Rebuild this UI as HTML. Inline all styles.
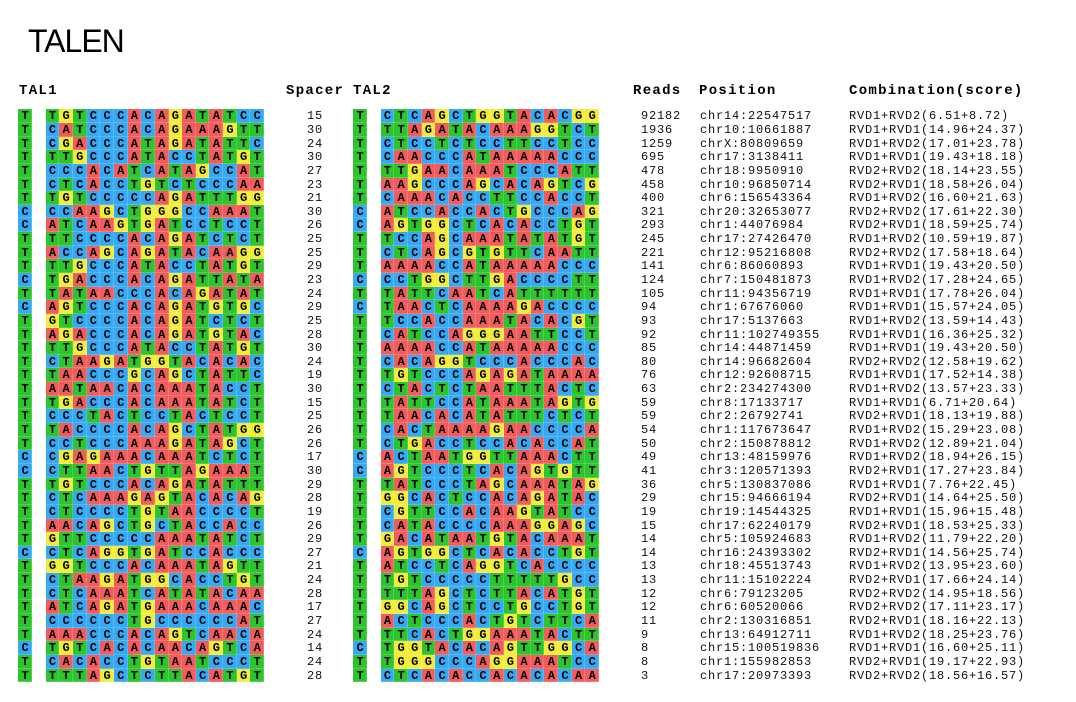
<!DOCTYPE html>
<html><head><meta charset="utf-8"><style>
html,body{margin:0;padding:0}
body{width:1076px;height:702px;background:#fff;position:relative;overflow:hidden;color:#000}
.t{position:absolute;left:28px;top:25px;font:32px/32px "Liberation Sans",Arial,sans-serif;letter-spacing:-1px;color:#000}
.h{position:absolute;top:83.8px;font:bold 14px/14px "Liberation Mono",monospace;letter-spacing:1.3px;color:#000}
#rows{position:absolute;top:109.3px;left:0;width:1076px}
.r{position:relative;height:13.65px}
.r p{position:absolute;top:0;margin:0;display:flex}
.r p.a{left:18.3px}
.r p.b{left:353.3px}
.r i{display:block;width:13.67px;height:13.65px;font:bold 12px/15.3px "Liberation Mono",monospace;text-align:center;color:#000}
.r i.T{background:#2dc52d}
.r i.A{background:#f25c5c}
.r i.C{background:#36a9f5}
.r i.G{background:#f2ec3a}
.r p i[class]{box-shadow:inset -1px 0 rgba(255,255,255,.18),inset 0 -1px rgba(255,255,255,.18)}
.r span{position:absolute;top:0;font:12px/15.3px "Liberation Mono",monospace;letter-spacing:0.8px;color:#111;white-space:nowrap}
.r .n{left:307px}
.r .d{left:641px}
.r .q{left:700px}
.r .c{left:849px}
</style></head><body>
<div class="t">TALEN</div>
<div class="h" style="left:19px">TAL1</div>
<div class="h" style="left:286px">Spacer</div>
<div class="h" style="left:353px">TAL2</div>
<div class="h" style="left:633px">Reads</div>
<div class="h" style="left:699px">Position</div>
<div class="h" style="left:849px">Combination(score)</div>
<div id="rows">
<div class="r"><p class="a"><i class=T>T</i><i></i><i class=T>T</i><i class=G>G</i><i class=T>T</i><i class=C>C</i><i class=C>C</i><i class=C>C</i><i class=A>A</i><i class=C>C</i><i class=A>A</i><i class=G>G</i><i class=A>A</i><i class=T>T</i><i class=A>A</i><i class=T>T</i><i class=C>C</i><i class=C>C</i></p><span class="n">15</span><p class="b"><i class=T>T</i><i></i><i class=C>C</i><i class=T>T</i><i class=C>C</i><i class=A>A</i><i class=G>G</i><i class=C>C</i><i class=T>T</i><i class=G>G</i><i class=G>G</i><i class=T>T</i><i class=A>A</i><i class=C>C</i><i class=A>A</i><i class=C>C</i><i class=G>G</i><i class=G>G</i></p><span class="d">92182</span><span class="q">chr14:22547517</span><span class="c">RVD1+RVD2(6.51+8.72)</span></div>
<div class="r"><p class="a"><i class=T>T</i><i></i><i class=C>C</i><i class=A>A</i><i class=T>T</i><i class=C>C</i><i class=C>C</i><i class=C>C</i><i class=A>A</i><i class=C>C</i><i class=A>A</i><i class=G>G</i><i class=A>A</i><i class=A>A</i><i class=A>A</i><i class=G>G</i><i class=T>T</i><i class=T>T</i></p><span class="n">30</span><p class="b"><i class=T>T</i><i></i><i class=T>T</i><i class=T>T</i><i class=A>A</i><i class=G>G</i><i class=A>A</i><i class=T>T</i><i class=A>A</i><i class=C>C</i><i class=A>A</i><i class=A>A</i><i class=A>A</i><i class=G>G</i><i class=G>G</i><i class=T>T</i><i class=C>C</i><i class=T>T</i></p><span class="d">1936</span><span class="q">chr10:10661887</span><span class="c">RVD1+RVD1(14.96+24.37)</span></div>
<div class="r"><p class="a"><i class=T>T</i><i></i><i class=C>C</i><i class=G>G</i><i class=A>A</i><i class=C>C</i><i class=C>C</i><i class=C>C</i><i class=A>A</i><i class=T>T</i><i class=A>A</i><i class=G>G</i><i class=A>A</i><i class=T>T</i><i class=A>A</i><i class=T>T</i><i class=T>T</i><i class=C>C</i></p><span class="n">24</span><p class="b"><i class=T>T</i><i></i><i class=C>C</i><i class=T>T</i><i class=C>C</i><i class=C>C</i><i class=T>T</i><i class=C>C</i><i class=T>T</i><i class=C>C</i><i class=C>C</i><i class=T>T</i><i class=T>T</i><i class=C>C</i><i class=C>C</i><i class=T>T</i><i class=C>C</i><i class=C>C</i></p><span class="d">1259</span><span class="q">chrX:80809659</span><span class="c">RVD1+RVD2(17.01+23.78)</span></div>
<div class="r"><p class="a"><i class=T>T</i><i></i><i class=T>T</i><i class=T>T</i><i class=G>G</i><i class=C>C</i><i class=C>C</i><i class=C>C</i><i class=A>A</i><i class=T>T</i><i class=A>A</i><i class=C>C</i><i class=C>C</i><i class=T>T</i><i class=A>A</i><i class=T>T</i><i class=G>G</i><i class=T>T</i></p><span class="n">30</span><p class="b"><i class=T>T</i><i></i><i class=C>C</i><i class=A>A</i><i class=A>A</i><i class=C>C</i><i class=C>C</i><i class=C>C</i><i class=A>A</i><i class=T>T</i><i class=A>A</i><i class=A>A</i><i class=A>A</i><i class=A>A</i><i class=A>A</i><i class=C>C</i><i class=C>C</i><i class=C>C</i></p><span class="d">695</span><span class="q">chr17:3138411</span><span class="c">RVD1+RVD1(19.43+18.18)</span></div>
<div class="r"><p class="a"><i class=T>T</i><i></i><i class=C>C</i><i class=C>C</i><i class=C>C</i><i class=A>A</i><i class=C>C</i><i class=A>A</i><i class=T>T</i><i class=C>C</i><i class=A>A</i><i class=T>T</i><i class=A>A</i><i class=G>G</i><i class=C>C</i><i class=C>C</i><i class=A>A</i><i class=T>T</i></p><span class="n">27</span><p class="b"><i class=T>T</i><i></i><i class=T>T</i><i class=T>T</i><i class=G>G</i><i class=A>A</i><i class=A>A</i><i class=C>C</i><i class=A>A</i><i class=A>A</i><i class=A>A</i><i class=T>T</i><i class=C>C</i><i class=C>C</i><i class=C>C</i><i class=A>A</i><i class=T>T</i><i class=T>T</i></p><span class="d">478</span><span class="q">chr18:9950910</span><span class="c">RVD2+RVD2(18.14+23.55)</span></div>
<div class="r"><p class="a"><i class=T>T</i><i></i><i class=C>C</i><i class=T>T</i><i class=C>C</i><i class=A>A</i><i class=C>C</i><i class=C>C</i><i class=T>T</i><i class=G>G</i><i class=T>T</i><i class=C>C</i><i class=T>T</i><i class=C>C</i><i class=C>C</i><i class=C>C</i><i class=A>A</i><i class=A>A</i></p><span class="n">23</span><p class="b"><i class=T>T</i><i></i><i class=A>A</i><i class=A>A</i><i class=G>G</i><i class=C>C</i><i class=C>C</i><i class=C>C</i><i class=A>A</i><i class=G>G</i><i class=C>C</i><i class=A>A</i><i class=C>C</i><i class=A>A</i><i class=G>G</i><i class=T>T</i><i class=C>C</i><i class=G>G</i></p><span class="d">458</span><span class="q">chr10:96850714</span><span class="c">RVD2+RVD1(18.58+26.04)</span></div>
<div class="r"><p class="a"><i class=T>T</i><i></i><i class=T>T</i><i class=G>G</i><i class=T>T</i><i class=C>C</i><i class=C>C</i><i class=C>C</i><i class=C>C</i><i class=C>C</i><i class=A>A</i><i class=G>G</i><i class=A>A</i><i class=T>T</i><i class=T>T</i><i class=T>T</i><i class=G>G</i><i class=G>G</i></p><span class="n">21</span><p class="b"><i class=T>T</i><i></i><i class=C>C</i><i class=A>A</i><i class=A>A</i><i class=A>A</i><i class=C>C</i><i class=A>A</i><i class=C>C</i><i class=C>C</i><i class=T>T</i><i class=T>T</i><i class=C>C</i><i class=C>C</i><i class=A>A</i><i class=C>C</i><i class=C>C</i><i class=T>T</i></p><span class="d">400</span><span class="q">chr6:156543364</span><span class="c">RVD1+RVD2(16.60+21.63)</span></div>
<div class="r"><p class="a"><i class=C>C</i><i></i><i class=C>C</i><i class=C>C</i><i class=A>A</i><i class=A>A</i><i class=G>G</i><i class=C>C</i><i class=T>T</i><i class=G>G</i><i class=G>G</i><i class=G>G</i><i class=C>C</i><i class=C>C</i><i class=A>A</i><i class=A>A</i><i class=A>A</i><i class=T>T</i></p><span class="n">30</span><p class="b"><i class=C>C</i><i></i><i class=A>A</i><i class=T>T</i><i class=C>C</i><i class=C>C</i><i class=A>A</i><i class=C>C</i><i class=C>C</i><i class=A>A</i><i class=C>C</i><i class=T>T</i><i class=G>G</i><i class=C>C</i><i class=C>C</i><i class=C>C</i><i class=A>A</i><i class=G>G</i></p><span class="d">321</span><span class="q">chr20:32653077</span><span class="c">RVD2+RVD2(17.61+22.30)</span></div>
<div class="r"><p class="a"><i class=C>C</i><i></i><i class=A>A</i><i class=T>T</i><i class=C>C</i><i class=A>A</i><i class=A>A</i><i class=G>G</i><i class=T>T</i><i class=G>G</i><i class=A>A</i><i class=T>T</i><i class=C>C</i><i class=C>C</i><i class=T>T</i><i class=C>C</i><i class=C>C</i><i class=T>T</i></p><span class="n">26</span><p class="b"><i class=C>C</i><i></i><i class=A>A</i><i class=G>G</i><i class=T>T</i><i class=G>G</i><i class=G>G</i><i class=C>C</i><i class=T>T</i><i class=C>C</i><i class=A>A</i><i class=C>C</i><i class=A>A</i><i class=C>C</i><i class=C>C</i><i class=T>T</i><i class=G>G</i><i class=T>T</i></p><span class="d">293</span><span class="q">chr1:44076984</span><span class="c">RVD2+RVD1(18.59+25.74)</span></div>
<div class="r"><p class="a"><i class=T>T</i><i></i><i class=T>T</i><i class=T>T</i><i class=C>C</i><i class=C>C</i><i class=C>C</i><i class=C>C</i><i class=A>A</i><i class=C>C</i><i class=A>A</i><i class=G>G</i><i class=A>A</i><i class=T>T</i><i class=C>C</i><i class=T>T</i><i class=C>C</i><i class=T>T</i></p><span class="n">25</span><p class="b"><i class=T>T</i><i></i><i class=T>T</i><i class=C>C</i><i class=C>C</i><i class=A>A</i><i class=G>G</i><i class=C>C</i><i class=A>A</i><i class=A>A</i><i class=A>A</i><i class=T>T</i><i class=A>A</i><i class=T>T</i><i class=A>A</i><i class=T>T</i><i class=G>G</i><i class=T>T</i></p><span class="d">245</span><span class="q">chr17:27426470</span><span class="c">RVD1+RVD2(10.59+19.87)</span></div>
<div class="r"><p class="a"><i class=T>T</i><i></i><i class=A>A</i><i class=C>C</i><i class=C>C</i><i class=A>A</i><i class=G>G</i><i class=C>C</i><i class=A>A</i><i class=G>G</i><i class=A>A</i><i class=T>T</i><i class=A>A</i><i class=C>C</i><i class=A>A</i><i class=A>A</i><i class=G>G</i><i class=G>G</i></p><span class="n">25</span><p class="b"><i class=T>T</i><i></i><i class=C>C</i><i class=T>T</i><i class=C>C</i><i class=A>A</i><i class=G>G</i><i class=C>C</i><i class=G>G</i><i class=T>T</i><i class=G>G</i><i class=T>T</i><i class=T>T</i><i class=C>C</i><i class=A>A</i><i class=A>A</i><i class=T>T</i><i class=T>T</i></p><span class="d">221</span><span class="q">chr12:95216808</span><span class="c">RVD2+RVD2(17.58+18.64)</span></div>
<div class="r"><p class="a"><i class=T>T</i><i></i><i class=T>T</i><i class=T>T</i><i class=G>G</i><i class=C>C</i><i class=C>C</i><i class=C>C</i><i class=A>A</i><i class=T>T</i><i class=A>A</i><i class=C>C</i><i class=C>C</i><i class=T>T</i><i class=A>A</i><i class=T>T</i><i class=G>G</i><i class=T>T</i></p><span class="n">29</span><p class="b"><i class=T>T</i><i></i><i class=A>A</i><i class=A>A</i><i class=A>A</i><i class=A>A</i><i class=C>C</i><i class=C>C</i><i class=A>A</i><i class=T>T</i><i class=A>A</i><i class=A>A</i><i class=A>A</i><i class=A>A</i><i class=A>A</i><i class=C>C</i><i class=C>C</i><i class=C>C</i></p><span class="d">141</span><span class="q">chr6:86060893</span><span class="c">RVD1+RVD1(19.43+20.50)</span></div>
<div class="r"><p class="a"><i class=C>C</i><i></i><i class=T>T</i><i class=G>G</i><i class=A>A</i><i class=C>C</i><i class=C>C</i><i class=C>C</i><i class=A>A</i><i class=C>C</i><i class=A>A</i><i class=G>G</i><i class=A>A</i><i class=T>T</i><i class=T>T</i><i class=A>A</i><i class=T>T</i><i class=A>A</i></p><span class="n">23</span><p class="b"><i class=C>C</i><i></i><i class=C>C</i><i class=C>C</i><i class=T>T</i><i class=G>G</i><i class=G>G</i><i class=C>C</i><i class=T>T</i><i class=T>T</i><i class=G>G</i><i class=A>A</i><i class=C>C</i><i class=C>C</i><i class=C>C</i><i class=C>C</i><i class=T>T</i><i class=T>T</i></p><span class="d">124</span><span class="q">chr7:150481873</span><span class="c">RVD1+RVD2(17.28+24.65)</span></div>
<div class="r"><p class="a"><i class=T>T</i><i></i><i class=T>T</i><i class=A>A</i><i class=T>T</i><i class=A>A</i><i class=A>A</i><i class=C>C</i><i class=C>C</i><i class=C>C</i><i class=A>A</i><i class=C>C</i><i class=A>A</i><i class=G>G</i><i class=A>A</i><i class=T>T</i><i class=A>A</i><i class=T>T</i></p><span class="n">24</span><p class="b"><i class=T>T</i><i></i><i class=T>T</i><i class=A>A</i><i class=T>T</i><i class=T>T</i><i class=C>C</i><i class=A>A</i><i class=A>A</i><i class=T>T</i><i class=C>C</i><i class=A>A</i><i class=T>T</i><i class=T>T</i><i class=T>T</i><i class=T>T</i><i class=T>T</i><i class=T>T</i></p><span class="d">105</span><span class="q">chr11:94356719</span><span class="c">RVD1+RVD1(17.78+26.04)</span></div>
<div class="r"><p class="a"><i class=C>C</i><i></i><i class=A>A</i><i class=G>G</i><i class=T>T</i><i class=C>C</i><i class=C>C</i><i class=C>C</i><i class=A>A</i><i class=C>C</i><i class=A>A</i><i class=G>G</i><i class=A>A</i><i class=T>T</i><i class=G>G</i><i class=T>T</i><i class=G>G</i><i class=C>C</i></p><span class="n">29</span><p class="b"><i class=C>C</i><i></i><i class=T>T</i><i class=A>A</i><i class=A>A</i><i class=C>C</i><i class=T>T</i><i class=C>C</i><i class=A>A</i><i class=A>A</i><i class=A>A</i><i class=A>A</i><i class=G>G</i><i class=A>A</i><i class=C>C</i><i class=C>C</i><i class=C>C</i><i class=C>C</i></p><span class="d">94</span><span class="q">chr1:67676060</span><span class="c">RVD1+RVD1(15.57+24.05)</span></div>
<div class="r"><p class="a"><i class=T>T</i><i></i><i class=G>G</i><i class=T>T</i><i class=C>C</i><i class=C>C</i><i class=C>C</i><i class=C>C</i><i class=A>A</i><i class=C>C</i><i class=A>A</i><i class=G>G</i><i class=A>A</i><i class=T>T</i><i class=C>C</i><i class=T>T</i><i class=C>C</i><i class=T>T</i></p><span class="n">25</span><p class="b"><i class=T>T</i><i></i><i class=T>T</i><i class=C>C</i><i class=C>C</i><i class=A>A</i><i class=C>C</i><i class=C>C</i><i class=A>A</i><i class=A>A</i><i class=A>A</i><i class=T>T</i><i class=A>A</i><i class=C>C</i><i class=A>A</i><i class=C>C</i><i class=G>G</i><i class=T>T</i></p><span class="d">93</span><span class="q">chr17:5137663</span><span class="c">RVD1+RVD2(13.59+14.43)</span></div>
<div class="r"><p class="a"><i class=T>T</i><i></i><i class=A>A</i><i class=G>G</i><i class=A>A</i><i class=C>C</i><i class=C>C</i><i class=C>C</i><i class=A>A</i><i class=C>C</i><i class=A>A</i><i class=G>G</i><i class=A>A</i><i class=T>T</i><i class=G>G</i><i class=T>T</i><i class=A>A</i><i class=C>C</i></p><span class="n">28</span><p class="b"><i class=T>T</i><i></i><i class=C>C</i><i class=A>A</i><i class=T>T</i><i class=C>C</i><i class=C>C</i><i class=A>A</i><i class=G>G</i><i class=G>G</i><i class=G>G</i><i class=A>A</i><i class=A>A</i><i class=T>T</i><i class=T>T</i><i class=C>C</i><i class=C>C</i><i class=T>T</i></p><span class="d">92</span><span class="q">chr11:102749355</span><span class="c">RVD1+RVD1(16.36+25.32)</span></div>
<div class="r"><p class="a"><i class=T>T</i><i></i><i class=T>T</i><i class=T>T</i><i class=G>G</i><i class=C>C</i><i class=C>C</i><i class=C>C</i><i class=A>A</i><i class=T>T</i><i class=A>A</i><i class=C>C</i><i class=C>C</i><i class=T>T</i><i class=A>A</i><i class=T>T</i><i class=G>G</i><i class=T>T</i></p><span class="n">30</span><p class="b"><i class=T>T</i><i></i><i class=A>A</i><i class=A>A</i><i class=A>A</i><i class=A>A</i><i class=C>C</i><i class=C>C</i><i class=A>A</i><i class=T>T</i><i class=A>A</i><i class=A>A</i><i class=A>A</i><i class=A>A</i><i class=A>A</i><i class=C>C</i><i class=C>C</i><i class=C>C</i></p><span class="d">85</span><span class="q">chr14:44871459</span><span class="c">RVD1+RVD1(19.43+20.50)</span></div>
<div class="r"><p class="a"><i class=T>T</i><i></i><i class=C>C</i><i class=T>T</i><i class=A>A</i><i class=A>A</i><i class=G>G</i><i class=A>A</i><i class=T>T</i><i class=G>G</i><i class=G>G</i><i class=T>T</i><i class=A>A</i><i class=C>C</i><i class=A>A</i><i class=C>C</i><i class=A>A</i><i class=C>C</i></p><span class="n">24</span><p class="b"><i class=T>T</i><i></i><i class=C>C</i><i class=A>A</i><i class=C>C</i><i class=A>A</i><i class=G>G</i><i class=G>G</i><i class=T>T</i><i class=C>C</i><i class=C>C</i><i class=C>C</i><i class=A>A</i><i class=C>C</i><i class=C>C</i><i class=C>C</i><i class=A>A</i><i class=C>C</i></p><span class="d">80</span><span class="q">chr14:96682604</span><span class="c">RVD2+RVD2(12.58+19.62)</span></div>
<div class="r"><p class="a"><i class=T>T</i><i></i><i class=T>T</i><i class=A>A</i><i class=A>A</i><i class=C>C</i><i class=C>C</i><i class=C>C</i><i class=G>G</i><i class=C>C</i><i class=A>A</i><i class=G>G</i><i class=C>C</i><i class=T>T</i><i class=A>A</i><i class=T>T</i><i class=T>T</i><i class=C>C</i></p><span class="n">19</span><p class="b"><i class=T>T</i><i></i><i class=T>T</i><i class=G>G</i><i class=T>T</i><i class=C>C</i><i class=C>C</i><i class=C>C</i><i class=A>A</i><i class=G>G</i><i class=A>A</i><i class=G>G</i><i class=A>A</i><i class=T>T</i><i class=A>A</i><i class=A>A</i><i class=A>A</i><i class=A>A</i></p><span class="d">76</span><span class="q">chr12:92608715</span><span class="c">RVD1+RVD1(17.52+14.38)</span></div>
<div class="r"><p class="a"><i class=T>T</i><i></i><i class=A>A</i><i class=A>A</i><i class=T>T</i><i class=A>A</i><i class=A>A</i><i class=C>C</i><i class=A>A</i><i class=C>C</i><i class=A>A</i><i class=A>A</i><i class=A>A</i><i class=T>T</i><i class=A>A</i><i class=C>C</i><i class=C>C</i><i class=T>T</i></p><span class="n">30</span><p class="b"><i class=T>T</i><i></i><i class=C>C</i><i class=T>T</i><i class=A>A</i><i class=C>C</i><i class=T>T</i><i class=C>C</i><i class=T>T</i><i class=A>A</i><i class=A>A</i><i class=T>T</i><i class=T>T</i><i class=T>T</i><i class=A>A</i><i class=C>C</i><i class=T>T</i><i class=C>C</i></p><span class="d">63</span><span class="q">chr2:234274300</span><span class="c">RVD1+RVD2(13.57+23.33)</span></div>
<div class="r"><p class="a"><i class=T>T</i><i></i><i class=T>T</i><i class=G>G</i><i class=A>A</i><i class=C>C</i><i class=C>C</i><i class=C>C</i><i class=A>A</i><i class=C>C</i><i class=A>A</i><i class=A>A</i><i class=A>A</i><i class=T>T</i><i class=A>A</i><i class=T>T</i><i class=C>C</i><i class=T>T</i></p><span class="n">15</span><p class="b"><i class=T>T</i><i></i><i class=T>T</i><i class=A>A</i><i class=T>T</i><i class=T>T</i><i class=C>C</i><i class=C>C</i><i class=A>A</i><i class=T>T</i><i class=A>A</i><i class=A>A</i><i class=A>A</i><i class=T>T</i><i class=A>A</i><i class=G>G</i><i class=T>T</i><i class=G>G</i></p><span class="d">59</span><span class="q">chr8:17133717</span><span class="c">RVD1+RVD1(6.71+20.64)</span></div>
<div class="r"><p class="a"><i class=T>T</i><i></i><i class=C>C</i><i class=C>C</i><i class=C>C</i><i class=T>T</i><i class=A>A</i><i class=C>C</i><i class=T>T</i><i class=C>C</i><i class=C>C</i><i class=T>T</i><i class=A>A</i><i class=C>C</i><i class=T>T</i><i class=C>C</i><i class=C>C</i><i class=T>T</i></p><span class="n">25</span><p class="b"><i class=T>T</i><i></i><i class=T>T</i><i class=A>A</i><i class=A>A</i><i class=C>C</i><i class=A>A</i><i class=C>C</i><i class=A>A</i><i class=T>T</i><i class=A>A</i><i class=T>T</i><i class=T>T</i><i class=T>T</i><i class=C>C</i><i class=T>T</i><i class=C>C</i><i class=T>T</i></p><span class="d">59</span><span class="q">chr2:26792741</span><span class="c">RVD2+RVD1(18.13+19.88)</span></div>
<div class="r"><p class="a"><i class=T>T</i><i></i><i class=T>T</i><i class=A>A</i><i class=C>C</i><i class=C>C</i><i class=C>C</i><i class=C>C</i><i class=A>A</i><i class=C>C</i><i class=A>A</i><i class=G>G</i><i class=C>C</i><i class=T>T</i><i class=A>A</i><i class=T>T</i><i class=G>G</i><i class=G>G</i></p><span class="n">26</span><p class="b"><i class=T>T</i><i></i><i class=C>C</i><i class=A>A</i><i class=C>C</i><i class=T>T</i><i class=A>A</i><i class=A>A</i><i class=A>A</i><i class=A>A</i><i class=G>G</i><i class=A>A</i><i class=A>A</i><i class=C>C</i><i class=C>C</i><i class=C>C</i><i class=C>C</i><i class=A>A</i></p><span class="d">54</span><span class="q">chr1:117673647</span><span class="c">RVD1+RVD2(15.29+23.08)</span></div>
<div class="r"><p class="a"><i class=T>T</i><i></i><i class=C>C</i><i class=C>C</i><i class=T>T</i><i class=C>C</i><i class=C>C</i><i class=C>C</i><i class=A>A</i><i class=A>A</i><i class=A>A</i><i class=G>G</i><i class=A>A</i><i class=T>T</i><i class=A>A</i><i class=G>G</i><i class=C>C</i><i class=T>T</i></p><span class="n">26</span><p class="b"><i class=T>T</i><i></i><i class=C>C</i><i class=T>T</i><i class=G>G</i><i class=A>A</i><i class=C>C</i><i class=C>C</i><i class=T>T</i><i class=C>C</i><i class=C>C</i><i class=A>A</i><i class=C>C</i><i class=A>A</i><i class=C>C</i><i class=C>C</i><i class=A>A</i><i class=T>T</i></p><span class="d">50</span><span class="q">chr2:150878812</span><span class="c">RVD1+RVD2(12.89+21.04)</span></div>
<div class="r"><p class="a"><i class=C>C</i><i></i><i class=C>C</i><i class=G>G</i><i class=A>A</i><i class=G>G</i><i class=A>A</i><i class=A>A</i><i class=A>A</i><i class=C>C</i><i class=A>A</i><i class=A>A</i><i class=A>A</i><i class=T>T</i><i class=C>C</i><i class=T>T</i><i class=C>C</i><i class=T>T</i></p><span class="n">17</span><p class="b"><i class=C>C</i><i></i><i class=A>A</i><i class=C>C</i><i class=T>T</i><i class=A>A</i><i class=A>A</i><i class=T>T</i><i class=G>G</i><i class=G>G</i><i class=T>T</i><i class=T>T</i><i class=A>A</i><i class=A>A</i><i class=A>A</i><i class=C>C</i><i class=T>T</i><i class=T>T</i></p><span class="d">49</span><span class="q">chr13:48159976</span><span class="c">RVD1+RVD2(18.94+26.15)</span></div>
<div class="r"><p class="a"><i class=C>C</i><i></i><i class=C>C</i><i class=T>T</i><i class=T>T</i><i class=A>A</i><i class=A>A</i><i class=C>C</i><i class=T>T</i><i class=G>G</i><i class=T>T</i><i class=T>T</i><i class=A>A</i><i class=G>G</i><i class=A>A</i><i class=A>A</i><i class=A>A</i><i class=T>T</i></p><span class="n">30</span><p class="b"><i class=C>C</i><i></i><i class=A>A</i><i class=G>G</i><i class=T>T</i><i class=C>C</i><i class=C>C</i><i class=C>C</i><i class=T>T</i><i class=C>C</i><i class=A>A</i><i class=C>C</i><i class=A>A</i><i class=G>G</i><i class=T>T</i><i class=G>G</i><i class=T>T</i><i class=T>T</i></p><span class="d">41</span><span class="q">chr3:120571393</span><span class="c">RVD2+RVD1(17.27+23.84)</span></div>
<div class="r"><p class="a"><i class=T>T</i><i></i><i class=T>T</i><i class=G>G</i><i class=T>T</i><i class=C>C</i><i class=C>C</i><i class=C>C</i><i class=A>A</i><i class=C>C</i><i class=A>A</i><i class=G>G</i><i class=A>A</i><i class=T>T</i><i class=A>A</i><i class=T>T</i><i class=T>T</i><i class=T>T</i></p><span class="n">29</span><p class="b"><i class=T>T</i><i></i><i class=T>T</i><i class=A>A</i><i class=T>T</i><i class=C>C</i><i class=C>C</i><i class=C>C</i><i class=T>T</i><i class=A>A</i><i class=G>G</i><i class=C>C</i><i class=A>A</i><i class=A>A</i><i class=A>A</i><i class=T>T</i><i class=A>A</i><i class=G>G</i></p><span class="d">36</span><span class="q">chr5:130837086</span><span class="c">RVD1+RVD1(7.76+22.45)</span></div>
<div class="r"><p class="a"><i class=T>T</i><i></i><i class=C>C</i><i class=T>T</i><i class=C>C</i><i class=A>A</i><i class=A>A</i><i class=A>A</i><i class=G>G</i><i class=A>A</i><i class=G>G</i><i class=T>T</i><i class=A>A</i><i class=C>C</i><i class=A>A</i><i class=C>C</i><i class=A>A</i><i class=G>G</i></p><span class="n">28</span><p class="b"><i class=T>T</i><i></i><i class=G>G</i><i class=G>G</i><i class=C>C</i><i class=A>A</i><i class=C>C</i><i class=T>T</i><i class=C>C</i><i class=C>C</i><i class=A>A</i><i class=C>C</i><i class=A>A</i><i class=G>G</i><i class=A>A</i><i class=T>T</i><i class=A>A</i><i class=C>C</i></p><span class="d">29</span><span class="q">chr15:94666194</span><span class="c">RVD2+RVD1(14.64+25.50)</span></div>
<div class="r"><p class="a"><i class=T>T</i><i></i><i class=C>C</i><i class=T>T</i><i class=C>C</i><i class=C>C</i><i class=C>C</i><i class=C>C</i><i class=T>T</i><i class=G>G</i><i class=T>T</i><i class=A>A</i><i class=A>A</i><i class=C>C</i><i class=C>C</i><i class=C>C</i><i class=C>C</i><i class=T>T</i></p><span class="n">19</span><p class="b"><i class=T>T</i><i></i><i class=C>C</i><i class=G>G</i><i class=T>T</i><i class=T>T</i><i class=C>C</i><i class=C>C</i><i class=A>A</i><i class=C>C</i><i class=A>A</i><i class=A>A</i><i class=G>G</i><i class=T>T</i><i class=A>A</i><i class=T>T</i><i class=C>C</i><i class=C>C</i></p><span class="d">19</span><span class="q">chr19:14544325</span><span class="c">RVD1+RVD1(15.96+15.48)</span></div>
<div class="r"><p class="a"><i class=T>T</i><i></i><i class=A>A</i><i class=A>A</i><i class=C>C</i><i class=A>A</i><i class=G>G</i><i class=C>C</i><i class=T>T</i><i class=G>G</i><i class=C>C</i><i class=T>T</i><i class=A>A</i><i class=C>C</i><i class=C>C</i><i class=A>A</i><i class=C>C</i><i class=C>C</i></p><span class="n">26</span><p class="b"><i class=T>T</i><i></i><i class=C>C</i><i class=A>A</i><i class=T>T</i><i class=A>A</i><i class=C>C</i><i class=C>C</i><i class=C>C</i><i class=C>C</i><i class=A>A</i><i class=A>A</i><i class=A>A</i><i class=G>G</i><i class=G>G</i><i class=A>A</i><i class=G>G</i><i class=C>C</i></p><span class="d">15</span><span class="q">chr17:62240179</span><span class="c">RVD2+RVD1(18.53+25.33)</span></div>
<div class="r"><p class="a"><i class=T>T</i><i></i><i class=G>G</i><i class=T>T</i><i class=T>T</i><i class=C>C</i><i class=C>C</i><i class=C>C</i><i class=C>C</i><i class=C>C</i><i class=A>A</i><i class=A>A</i><i class=A>A</i><i class=T>T</i><i class=A>A</i><i class=T>T</i><i class=C>C</i><i class=T>T</i></p><span class="n">29</span><p class="b"><i class=T>T</i><i></i><i class=G>G</i><i class=A>A</i><i class=C>C</i><i class=A>A</i><i class=T>T</i><i class=A>A</i><i class=A>A</i><i class=T>T</i><i class=G>G</i><i class=T>T</i><i class=A>A</i><i class=C>C</i><i class=A>A</i><i class=A>A</i><i class=A>A</i><i class=T>T</i></p><span class="d">14</span><span class="q">chr5:105924683</span><span class="c">RVD1+RVD2(11.79+22.20)</span></div>
<div class="r"><p class="a"><i class=C>C</i><i></i><i class=C>C</i><i class=T>T</i><i class=C>C</i><i class=A>A</i><i class=G>G</i><i class=G>G</i><i class=T>T</i><i class=G>G</i><i class=A>A</i><i class=T>T</i><i class=C>C</i><i class=C>C</i><i class=A>A</i><i class=C>C</i><i class=C>C</i><i class=C>C</i></p><span class="n">27</span><p class="b"><i class=C>C</i><i></i><i class=A>A</i><i class=G>G</i><i class=T>T</i><i class=G>G</i><i class=G>G</i><i class=C>C</i><i class=T>T</i><i class=C>C</i><i class=A>A</i><i class=C>C</i><i class=A>A</i><i class=C>C</i><i class=C>C</i><i class=T>T</i><i class=G>G</i><i class=T>T</i></p><span class="d">14</span><span class="q">chr16:24393302</span><span class="c">RVD2+RVD1(14.56+25.74)</span></div>
<div class="r"><p class="a"><i class=T>T</i><i></i><i class=G>G</i><i class=G>G</i><i class=T>T</i><i class=C>C</i><i class=C>C</i><i class=C>C</i><i class=A>A</i><i class=C>C</i><i class=A>A</i><i class=A>A</i><i class=A>A</i><i class=T>T</i><i class=A>A</i><i class=G>G</i><i class=T>T</i><i class=T>T</i></p><span class="n">21</span><p class="b"><i class=T>T</i><i></i><i class=A>A</i><i class=T>T</i><i class=C>C</i><i class=C>C</i><i class=T>T</i><i class=C>C</i><i class=A>A</i><i class=G>G</i><i class=G>G</i><i class=T>T</i><i class=C>C</i><i class=A>A</i><i class=C>C</i><i class=C>C</i><i class=C>C</i><i class=C>C</i></p><span class="d">13</span><span class="q">chr18:45513743</span><span class="c">RVD1+RVD2(13.95+23.60)</span></div>
<div class="r"><p class="a"><i class=T>T</i><i></i><i class=C>C</i><i class=T>T</i><i class=A>A</i><i class=A>A</i><i class=G>G</i><i class=A>A</i><i class=T>T</i><i class=G>G</i><i class=G>G</i><i class=C>C</i><i class=A>A</i><i class=C>C</i><i class=C>C</i><i class=T>T</i><i class=G>G</i><i class=T>T</i></p><span class="n">24</span><p class="b"><i class=T>T</i><i></i><i class=T>T</i><i class=G>G</i><i class=T>T</i><i class=C>C</i><i class=C>C</i><i class=C>C</i><i class=C>C</i><i class=C>C</i><i class=T>T</i><i class=T>T</i><i class=T>T</i><i class=T>T</i><i class=T>T</i><i class=G>G</i><i class=C>C</i><i class=C>C</i></p><span class="d">13</span><span class="q">chr11:15102224</span><span class="c">RVD2+RVD1(17.66+24.14)</span></div>
<div class="r"><p class="a"><i class=T>T</i><i></i><i class=C>C</i><i class=T>T</i><i class=C>C</i><i class=A>A</i><i class=A>A</i><i class=A>A</i><i class=T>T</i><i class=C>C</i><i class=A>A</i><i class=T>T</i><i class=A>A</i><i class=T>T</i><i class=A>A</i><i class=C>C</i><i class=A>A</i><i class=A>A</i></p><span class="n">28</span><p class="b"><i class=T>T</i><i></i><i class=T>T</i><i class=T>T</i><i class=T>T</i><i class=A>A</i><i class=G>G</i><i class=C>C</i><i class=T>T</i><i class=C>C</i><i class=T>T</i><i class=T>T</i><i class=A>A</i><i class=C>C</i><i class=A>A</i><i class=T>T</i><i class=G>G</i><i class=T>T</i></p><span class="d">12</span><span class="q">chr6:79123205</span><span class="c">RVD2+RVD2(14.95+18.56)</span></div>
<div class="r"><p class="a"><i class=T>T</i><i></i><i class=A>A</i><i class=T>T</i><i class=C>C</i><i class=A>A</i><i class=G>G</i><i class=A>A</i><i class=T>T</i><i class=G>G</i><i class=A>A</i><i class=A>A</i><i class=A>A</i><i class=C>C</i><i class=A>A</i><i class=A>A</i><i class=A>A</i><i class=C>C</i></p><span class="n">17</span><p class="b"><i class=T>T</i><i></i><i class=G>G</i><i class=G>G</i><i class=C>C</i><i class=A>A</i><i class=G>G</i><i class=C>C</i><i class=T>T</i><i class=C>C</i><i class=C>C</i><i class=T>T</i><i class=G>G</i><i class=C>C</i><i class=C>C</i><i class=T>T</i><i class=G>G</i><i class=T>T</i></p><span class="d">12</span><span class="q">chr6:60520066</span><span class="c">RVD2+RVD2(17.11+23.17)</span></div>
<div class="r"><p class="a"><i class=T>T</i><i></i><i class=C>C</i><i class=C>C</i><i class=C>C</i><i class=C>C</i><i class=C>C</i><i class=C>C</i><i class=T>T</i><i class=G>G</i><i class=C>C</i><i class=C>C</i><i class=C>C</i><i class=C>C</i><i class=C>C</i><i class=C>C</i><i class=A>A</i><i class=T>T</i></p><span class="n">27</span><p class="b"><i class=T>T</i><i></i><i class=A>A</i><i class=C>C</i><i class=T>T</i><i class=C>C</i><i class=C>C</i><i class=C>C</i><i class=A>A</i><i class=C>C</i><i class=T>T</i><i class=G>G</i><i class=T>T</i><i class=C>C</i><i class=T>T</i><i class=T>T</i><i class=C>C</i><i class=A>A</i></p><span class="d">11</span><span class="q">chr2:130316851</span><span class="c">RVD2+RVD1(18.16+22.13)</span></div>
<div class="r"><p class="a"><i class=T>T</i><i></i><i class=A>A</i><i class=A>A</i><i class=A>A</i><i class=C>C</i><i class=C>C</i><i class=C>C</i><i class=A>A</i><i class=C>C</i><i class=A>A</i><i class=G>G</i><i class=T>T</i><i class=C>C</i><i class=A>A</i><i class=A>A</i><i class=C>C</i><i class=A>A</i></p><span class="n">24</span><p class="b"><i class=T>T</i><i></i><i class=T>T</i><i class=T>T</i><i class=C>C</i><i class=A>A</i><i class=C>C</i><i class=T>T</i><i class=G>G</i><i class=G>G</i><i class=A>A</i><i class=A>A</i><i class=A>A</i><i class=T>T</i><i class=A>A</i><i class=C>C</i><i class=T>T</i><i class=T>T</i></p><span class="d">9</span><span class="q">chr13:64912711</span><span class="c">RVD1+RVD2(18.25+23.76)</span></div>
<div class="r"><p class="a"><i class=C>C</i><i></i><i class=T>T</i><i class=G>G</i><i class=T>T</i><i class=C>C</i><i class=A>A</i><i class=C>C</i><i class=A>A</i><i class=C>C</i><i class=A>A</i><i class=A>A</i><i class=C>C</i><i class=A>A</i><i class=G>G</i><i class=T>T</i><i class=C>C</i><i class=A>A</i></p><span class="n">14</span><p class="b"><i class=C>C</i><i></i><i class=T>T</i><i class=G>G</i><i class=G>G</i><i class=T>T</i><i class=A>A</i><i class=C>C</i><i class=A>A</i><i class=C>C</i><i class=A>A</i><i class=G>G</i><i class=T>T</i><i class=T>T</i><i class=G>G</i><i class=G>G</i><i class=C>C</i><i class=A>A</i></p><span class="d">8</span><span class="q">chr15:100519836</span><span class="c">RVD1+RVD1(16.60+25.11)</span></div>
<div class="r"><p class="a"><i class=T>T</i><i></i><i class=C>C</i><i class=A>A</i><i class=C>C</i><i class=A>A</i><i class=C>C</i><i class=C>C</i><i class=T>T</i><i class=G>G</i><i class=T>T</i><i class=A>A</i><i class=A>A</i><i class=T>T</i><i class=C>C</i><i class=C>C</i><i class=C>C</i><i class=T>T</i></p><span class="n">24</span><p class="b"><i class=T>T</i><i></i><i class=T>T</i><i class=G>G</i><i class=G>G</i><i class=G>G</i><i class=C>C</i><i class=C>C</i><i class=C>C</i><i class=A>A</i><i class=G>G</i><i class=G>G</i><i class=A>A</i><i class=A>A</i><i class=A>A</i><i class=T>T</i><i class=C>C</i><i class=C>C</i></p><span class="d">8</span><span class="q">chr1:155982853</span><span class="c">RVD2+RVD1(19.17+22.93)</span></div>
<div class="r"><p class="a"><i class=T>T</i><i></i><i class=T>T</i><i class=T>T</i><i class=T>T</i><i class=A>A</i><i class=G>G</i><i class=C>C</i><i class=T>T</i><i class=C>C</i><i class=T>T</i><i class=T>T</i><i class=A>A</i><i class=C>C</i><i class=A>A</i><i class=T>T</i><i class=G>G</i><i class=T>T</i></p><span class="n">28</span><p class="b"><i class=T>T</i><i></i><i class=C>C</i><i class=T>T</i><i class=C>C</i><i class=A>A</i><i class=C>C</i><i class=A>A</i><i class=C>C</i><i class=C>C</i><i class=A>A</i><i class=C>C</i><i class=A>A</i><i class=C>C</i><i class=A>A</i><i class=C>C</i><i class=A>A</i><i class=A>A</i></p><span class="d">3</span><span class="q">chr17:20973393</span><span class="c">RVD2+RVD2(18.56+16.57)</span></div>
</div>
</body></html>
